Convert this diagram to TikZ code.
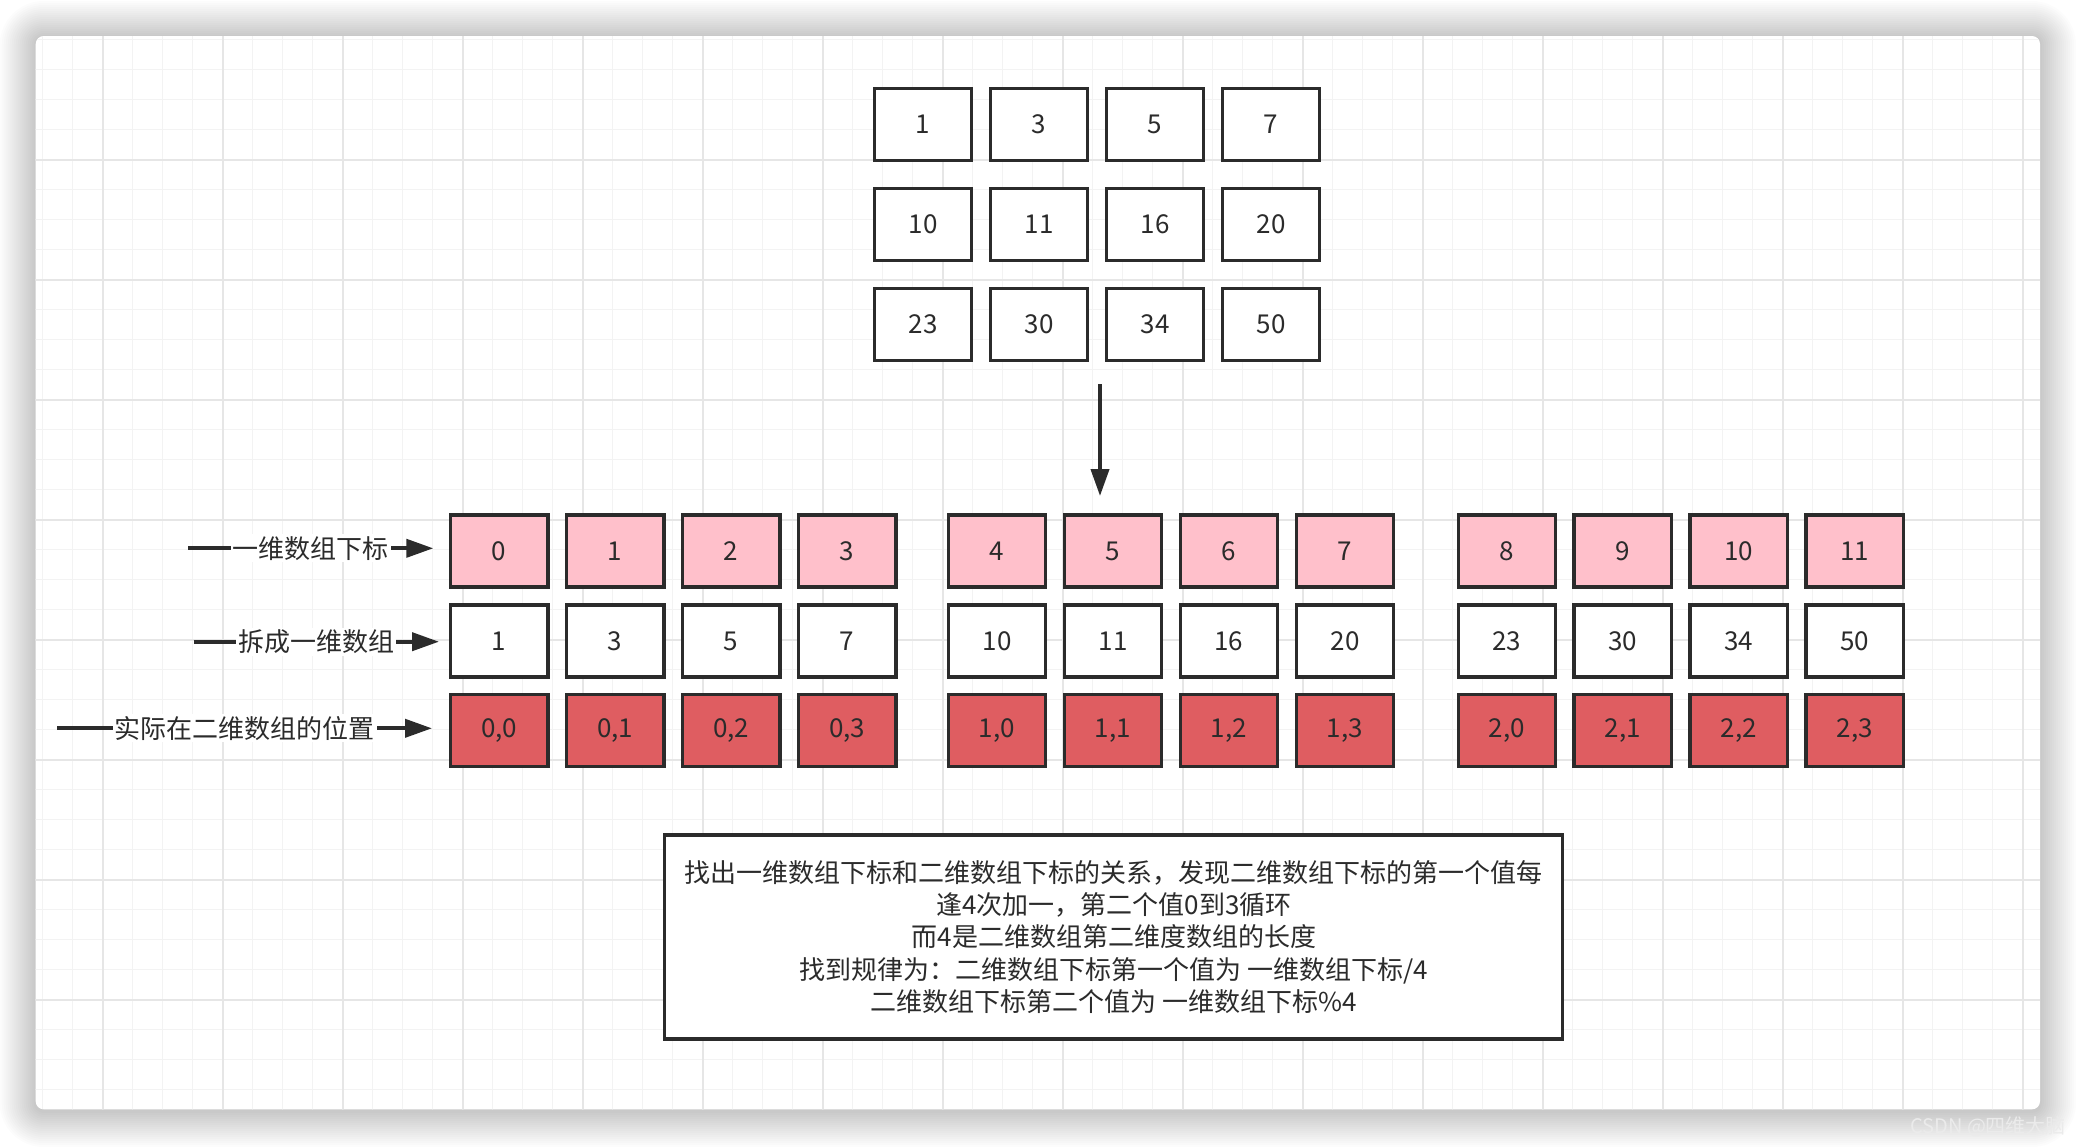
\documentclass[tikz,border=0pt]{standalone}
\usepackage{fontspec}
\setmainfont{Noto Sans CJK SC}
\usetikzlibrary{arrows.meta}
\definecolor{ink}{HTML}{2B2B2B}
\definecolor{pinkf}{RGB}{255,192,203}
\definecolor{redf}{RGB}{223,93,97}
\definecolor{gminor}{HTML}{F3F3F3}
\definecolor{gmajor}{HTML}{E6E6E6}
\begin{document}
\begin{tikzpicture}[x=1pt,y=-1pt,
  cellbox/.style={draw=ink, line width=3.3pt, minimum width=97.5pt, minimum height=72pt, inner sep=0pt, font=\fontsize{26}{30}\selectfont, text=ink},
  idxbox/.style={cellbox, fill=pinkf},
  valbox/.style={cellbox, fill=white},
  posbox/.style={cellbox, fill=redf},
  conn/.style={draw=ink, line width=4pt, -{Triangle[length=27pt,width=18pt]}},
  lbl/.style={fill=white, inner sep=2pt, font=\fontsize{26}{30}\selectfont, text=ink},
  notebox/.style={draw=ink, line width=3.3pt, fill=white, minimum width=898pt, minimum height=204pt, align=center, font=\fontsize{26}{32.3}\selectfont, text=ink}
]
\fill[white] (0,0) rectangle (2076,1146);
\useasboundingbox (0,0) rectangle (2076,1146);
% shadow
\foreach \i in {1,...,18}{
  \pgfmathsetmacro\rr{8+2*\i}
  \fill[black, opacity=0.011, rounded corners=\rr pt] ({35.7-2*\i},{37-2*\i}) rectangle ({2040+2*\i},{1111+2*\i});
}
% panel
\fill[white, rounded corners=8pt] (35.7,36) rectangle (2040,1109.3);
\begin{scope}
  \clip[rounded corners=8pt] (35.7,36) rectangle (2040,1109.3);
  \foreach \x in {42.7,72.7,...,2040}{\draw[gminor, line width=1.5pt] (\x,36) -- (\x,1110);}
  \foreach \y in {39.3,69.3,...,1109}{\draw[gminor, line width=1.5pt] (35,\y) -- (2041,\y);}
  \foreach \x in {102.7,222.7,...,2040}{\draw[gmajor, line width=1.8pt] (\x,36) -- (\x,1110);}
  \foreach \y in {160,280,...,1109}{\draw[gmajor, line width=1.8pt] (35,\y) -- (2041,\y);}
\end{scope}
% top 2D array
\foreach \c/\x in {0/923,1/1039,2/1155,3/1271}{
  \foreach \r/\y in {0/124.5,1/224.5,2/324.5}{
    \coordinate (tc\r\c) at (\x,\y);
  }
}
\node[valbox] (t00) at (tc00) {1};
\node[valbox] (t01) at (tc01) {3};
\node[valbox] (t02) at (tc02) {5};
\node[valbox] (t03) at (tc03) {7};
\node[valbox] (t10) at (tc10) {10};
\node[valbox] (t11) at (tc11) {11};
\node[valbox] (t12) at (tc12) {16};
\node[valbox] (t13) at (tc13) {20};
\node[valbox] (t20) at (tc20) {23};
\node[valbox] (t21) at (tc21) {30};
\node[valbox] (t22) at (tc22) {34};
\node[valbox] (t23) at (tc23) {50};
% down arrow
\coordinate (da1) at (1100,384);
\coordinate (da2) at (1100,496);
\draw[conn] (da1) -- (da2);
% three rows
\foreach \k/\x/\v/\p in {0/499.2/1/{0,0},1/615.2/3/{0,1},2/731.2/5/{0,2},3/847.1/7/{0,3},
  4/997/10/{1,0},5/1113/11/{1,1},6/1228.9/16/{1,2},7/1345/20/{1,3},
  8/1506.9/23/{2,0},9/1622.8/30/{2,1},10/1738.8/34/{2,2},11/1854.7/50/{2,3}}{
  \node[idxbox] (i\k) at (\x,551) {\k};
  \node[valbox] (v\k) at (\x,641) {\v};
  \node[posbox] (p\k) at (\x,730.5) {\p};
}
% labelled arrows
\coordinate (l1s) at (188.3,548.3);
\coordinate (l1e) at (433.3,548.3);
\draw[conn] (l1s) -- node[lbl] (lab1) {一维数组下标} (l1e);
\coordinate (l2s) at (193.8,641.7);
\coordinate (l2e) at (439,641.7);
\draw[conn] (l2s) -- node[lbl] (lab2) {拆成一维数组} (l2e);
\coordinate (l3s) at (57.2,728.3);
\coordinate (l3e) at (432,728.3);
\draw[conn] (l3s) -- node[lbl] (lab3) {实际在二维数组的位置} (l3e);
% note
\node[notebox] (note) at (1113.8,937) {找出一维数组下标和二维数组下标的关系，发现二维数组下标的第一个值每\\逢4次加一，第二个值0到3循环\\而4是二维数组第二维度数组的长度\\找到规律为：二维数组下标第一个值为 一维数组下标/4\\二维数组下标第二个值为 一维数组下标\%4};
% watermark
\node[anchor=west, inner sep=0pt, text=white!92!black, font=\fontsize{20}{24}\selectfont] (wm) at (1910,1126.7) {CSDN @四维大脑};
\end{tikzpicture}
\end{document}
